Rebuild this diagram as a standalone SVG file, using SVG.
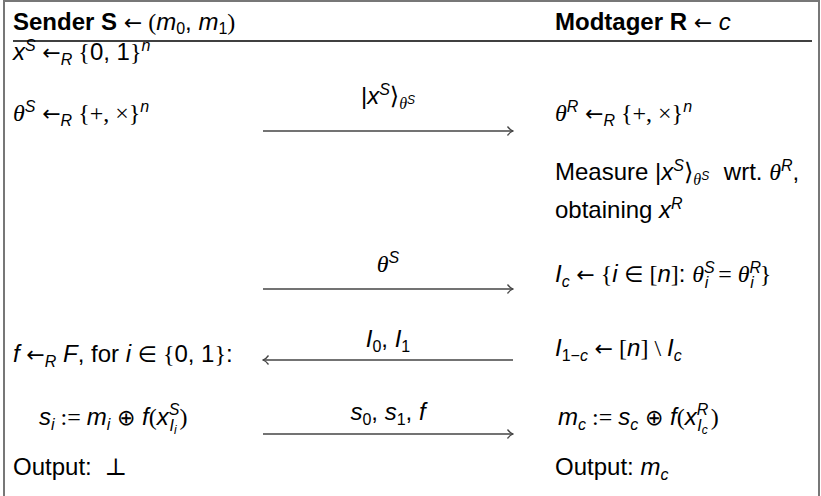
<svg xmlns="http://www.w3.org/2000/svg" width="821" height="496" viewBox="0 0 821 496">
<style>
.t{font-family:"Liberation Sans",Arial,sans-serif;font-size:24px;fill:#000}
.b{font-weight:bold}
.i{font-style:italic}
.s{font-family:"Liberation Serif","DejaVu Serif",serif;font-style:normal}
.a{font-family:"DejaVu Sans",sans-serif;font-style:normal;font-weight:normal;font-size:22px}
.th{font-family:"Liberation Serif",serif;font-style:italic}
.sm{font-size:16px}
.xs{font-size:12px}
.ln{stroke:#444;stroke-width:1.4;fill:none}
</style>
<defs>
<marker id="ah" viewBox="0 0 10 12" refX="9" refY="6" markerWidth="10" markerHeight="12" orient="auto" markerUnits="userSpaceOnUse">
<path d="M3.5,1.5 Q6,5 9,6 Q6,7 3.5,10.5" fill="none" stroke="#444" stroke-width="1.3"/>
</marker>
</defs>
<rect x="0" y="0" width="821" height="496" fill="#fff"/>
<rect id="frame" x="4" y="1" width="815" height="505" fill="none" stroke="#777" stroke-width="2"/>
<line x1="13" y1="41" x2="812" y2="41" stroke="#000" stroke-width="1.5"/>

<g id="sender-header"><text class="t" x="13" y="30"><tspan class="b">Sender S</tspan> <tspan class="a">←</tspan><tspan class="s"> (</tspan><tspan class="i">m</tspan><tspan class="sm" dy="4">0</tspan><tspan dy="-4">, </tspan><tspan class="i">m</tspan><tspan class="sm" dy="4">1</tspan><tspan class="s" dy="-4">)</tspan></text></g>
<g id="receiver-header"><text class="t" x="555" y="30"><tspan class="b">Modtager R</tspan> <tspan class="a">←</tspan> <tspan class="i">c</tspan></text></g>

<g id="s1"><text class="t" x="13" y="60"><tspan class="i">x</tspan><tspan class="sm i" dy="-9">S</tspan> <tspan class="a" dy="9">←</tspan><tspan class="sm i" dy="5">R</tspan><tspan class="s" dy="-5"> {</tspan>0, 1<tspan class="s">}</tspan><tspan class="sm i" dy="-9">n</tspan></text></g>

<g id="s2"><text class="t" x="13" y="121"><tspan class="th">θ</tspan><tspan class="sm i" dy="-9">S</tspan> <tspan class="a" dy="9">←</tspan><tspan class="sm i" dy="5">R</tspan><tspan class="s" dy="-5"> {+, ×}</tspan><tspan class="sm i" dy="-9">n</tspan></text></g>

<g id="r1"><text class="t" x="555" y="121"><tspan class="th">θ</tspan><tspan class="sm i" dy="-9">R</tspan> <tspan class="a" dy="9">←</tspan><tspan class="sm i" dy="5">R</tspan><tspan class="s" dy="-5"> {+, ×}</tspan><tspan class="sm i" dy="-9">n</tspan></text></g>

<g id="r2"><text class="t" x="555" y="180">Measure |<tspan class="i">x</tspan><tspan class="sm i" dy="-9">S</tspan><tspan class="s" dy="9">⟩</tspan><tspan class="sm th" dy="5">θ</tspan><tspan class="xs i" dy="-5">S</tspan><tspan dx="8"> wrt. </tspan><tspan class="th">θ</tspan><tspan class="sm i" dy="-9">R</tspan><tspan dy="9">,</tspan></text>
<text class="t" x="555" y="218">obtaining <tspan class="i">x</tspan><tspan class="sm i" dy="-9">R</tspan></text></g>

<g id="r3"><text class="t" x="555" y="282"><tspan class="i">I</tspan><tspan class="sm i" dy="5">c</tspan> <tspan class="a" dy="-5">←</tspan><tspan class="s"> {</tspan><tspan class="i">i</tspan> <tspan class="a">∈</tspan><tspan class="s"> [</tspan><tspan class="i">n</tspan><tspan class="s">]</tspan>: <tspan class="th">θ</tspan><tspan class="sm i" dy="-9">S</tspan><tspan class="sm i" dx="-10" dy="15">i</tspan><tspan class="s" dx="4" dy="-6"> = </tspan><tspan class="th">θ</tspan><tspan class="sm i" dy="-9">R</tspan><tspan class="sm i" dx="-11" dy="15">i</tspan><tspan class="s" dx="6" dy="-6">}</tspan></text></g>

<g id="s3"><text class="t" x="13" y="362"><tspan class="i">f</tspan> <tspan class="a">←</tspan><tspan class="sm i" dy="5">R</tspan><tspan class="i" dy="-5"> F</tspan>, for <tspan class="i">i</tspan> <tspan class="a">∈</tspan><tspan class="s"> {</tspan>0, 1<tspan class="s">}</tspan>:</text></g>

<g id="r4"><text class="t" x="555" y="356"><tspan class="i">I</tspan><tspan class="sm" dy="5">1−</tspan><tspan class="sm i">c</tspan> <tspan class="a" dy="-5">←</tspan><tspan class="s"> [</tspan><tspan class="i">n</tspan><tspan class="s">] \ </tspan><tspan class="i">I</tspan><tspan class="sm i" dy="5">c</tspan></text></g>

<g id="s4"><text class="t" x="39" y="425"><tspan class="i">s</tspan><tspan class="sm i" dy="5">i</tspan><tspan class="s" dy="-5"> := </tspan><tspan class="i">m</tspan><tspan class="sm i" dy="5">i</tspan> <tspan class="a" dy="-5">⊕</tspan> <tspan class="i">f</tspan><tspan class="s">(</tspan><tspan class="i">x</tspan><tspan class="sm i" dy="-10">S</tspan><tspan class="sm i" dx="-10" dy="16">I</tspan><tspan class="xs i" dy="3">i</tspan><tspan class="s" dx="3" dy="-9">)</tspan></text></g>

<g id="r5"><text class="t" x="558" y="425"><tspan class="i">m</tspan><tspan class="sm i" dy="5">c</tspan><tspan class="s" dy="-5"> := </tspan><tspan class="i">s</tspan><tspan class="sm i" dy="5">c</tspan> <tspan class="a" dy="-5">⊕</tspan> <tspan class="i">f</tspan><tspan class="s">(</tspan><tspan class="i">x</tspan><tspan class="sm i" dy="-10">R</tspan><tspan class="sm i" dx="-11" dy="16">I</tspan><tspan class="xs i" dy="3">c</tspan><tspan class="s" dx="3" dy="-9">)</tspan></text></g>

<g id="s5"><text class="t" x="13" y="475">Output: <tspan class="s" dx="6">⊥</tspan></text></g>
<g id="r6"><text class="t" x="555" y="475">Output: <tspan class="i">m</tspan><tspan class="sm i" dy="5">c</tspan></text></g>

<g id="connectors">
<line class="ln" x1="263" y1="131" x2="513" y2="131" marker-end="url(#ah)"/>
<line class="ln" x1="263" y1="289" x2="513" y2="289" marker-end="url(#ah)"/>
<line class="ln" x1="513" y1="360" x2="263" y2="360" marker-end="url(#ah)"/>
<line class="ln" x1="263" y1="434" x2="513" y2="434" marker-end="url(#ah)"/>
<text class="t" x="388" y="104" text-anchor="middle">|<tspan class="i">x</tspan><tspan class="sm i" dy="-9">S</tspan><tspan class="s" dy="9">⟩</tspan><tspan class="sm th" dy="5">θ</tspan><tspan class="xs i" dy="-5">S</tspan></text>
<text class="t" x="388" y="272" text-anchor="middle"><tspan class="th">θ</tspan><tspan class="sm i" dy="-9">S</tspan></text>
<text class="t" x="388" y="347" text-anchor="middle"><tspan class="i">I</tspan><tspan class="sm" dy="5">0</tspan><tspan dy="-5">, </tspan><tspan class="i">I</tspan><tspan class="sm" dy="5">1</tspan></text>
<text class="t" x="388" y="420" text-anchor="middle"><tspan class="i">s</tspan><tspan class="sm" dy="5">0</tspan><tspan dy="-5">, </tspan><tspan class="i">s</tspan><tspan class="sm" dy="5">1</tspan><tspan dy="-5">, </tspan><tspan class="i">f</tspan></text>
</g>
</svg>
